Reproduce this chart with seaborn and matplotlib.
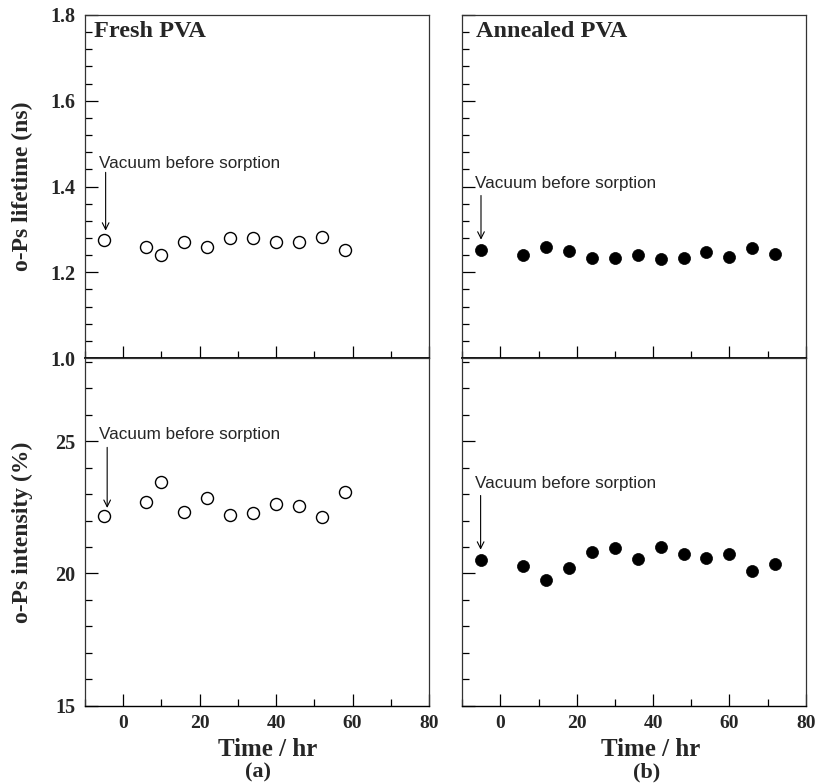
import matplotlib
matplotlib.use("Agg")
import matplotlib.pyplot as plt
from matplotlib.ticker import MultipleLocator
import seaborn as sns
import pandas as pd

# ---------------- data ----------------
fresh_time = [-5, 6, 10, 16, 22, 28, 34, 40, 46, 52, 58]
fresh_lifetime = [1.276, 1.258, 1.241, 1.270, 1.260, 1.279, 1.279, 1.270, 1.270, 1.283, 1.253]
fresh_intensity = [22.17, 22.72, 23.47, 22.31, 22.87, 22.20, 22.30, 22.63, 22.55, 22.14, 23.08]

annealed_time = [-5, 6, 12, 18, 24, 30, 36, 42, 48, 54, 60, 66, 72]
annealed_lifetime = [1.253, 1.240, 1.259, 1.250, 1.233, 1.233, 1.240, 1.231, 1.234, 1.247, 1.236, 1.256, 1.243]
annealed_intensity = [20.52, 20.29, 19.76, 20.20, 20.80, 20.95, 20.55, 21.02, 20.75, 20.58, 20.73, 20.11, 20.36]

panel_titles = ["Fresh PVA", "Annealed PVA"]
panel_tags = ["(a)", "(b)"]
x_ticks = [0, 20, 40, 60, 80]
lifetime_ticks = [1.0, 1.2, 1.4, 1.6, 1.8]
intensity_ticks = [15, 20, 25]
annotation_text = "Vacuum before sorption"

fresh = pd.DataFrame({"time": fresh_time, "lifetime": fresh_lifetime, "intensity": fresh_intensity})
annealed = pd.DataFrame({"time": annealed_time, "lifetime": annealed_lifetime, "intensity": annealed_intensity})

sns.set_style("ticks")
plt.rcParams["font.family"] = ["Liberation Serif", "DejaVu Serif"]

W, H = 818, 784
fig = plt.figure(figsize=(W / 100, H / 100), dpi=100)

def fx(px):
    return px / W

def fy(py):
    return 1 - py / H

cols = [(85, 429), (462.3, 805.7)]
rows = [(15, 358), (358, 705.7)]

serif_bold = dict(family=["Liberation Serif", "DejaVu Serif"], weight="bold")
sans = dict(family=["Liberation Sans", "DejaVu Sans"])

# annotation positions (text x, text y, arrow x, arrow top, arrow head) in data units
ann = {
    (0, 0): (-6.4, 1.453, -4.6, 1.433, 1.297),
    (1, 0): (-6.8, 1.408, -5.1, 1.379, 1.276),
    (0, 1): (-6.4, 25.25, -4.2, 24.77, 22.48),
    (1, 1): (-6.8, 23.40, -5.2, 22.95, 20.90),
}

title_x = [0.026, 0.040]
xlabel_x = [0.53, 0.547]
tag_x = [0.503, 0.537]

for c, (df, filled) in enumerate([(fresh, False), (annealed, True)]):
    for r, var in enumerate(["lifetime", "intensity"]):
        x0, x1 = cols[c]
        y0, y1 = rows[r]
        ax = fig.add_axes([fx(x0), fy(y1), fx(x1) - fx(x0), fy(y0) - fy(y1)])
        if filled:
            sns.scatterplot(data=df, x="time", y=var, ax=ax, marker="o", s=75,
                            color="black", edgecolor="black", linewidth=0.5, legend=False)
        else:
            sns.scatterplot(data=df, x="time", y=var, ax=ax, marker="o", s=75,
                            facecolor="white", edgecolor="black", linewidth=1.0, legend=False)
        ax.set_xlim(-10, 80)
        ax.xaxis.set_major_locator(MultipleLocator(20))
        ax.xaxis.set_minor_locator(MultipleLocator(10))
        if r == 0:
            ax.set_ylim(1.0, 1.8)
            ax.set_yticks(lifetime_ticks)
            ax.yaxis.set_minor_locator(MultipleLocator(0.04))
            ax.set_xticklabels([])
        else:
            ax.set_ylim(15, 28.15)
            ax.set_yticks(intensity_ticks)
            ax.yaxis.set_minor_locator(MultipleLocator(1))
            ax.set_xticks(x_ticks)
            ax.set_xticklabels([str(v) for v in x_ticks])
        ax.set_xlabel("")
        ax.set_ylabel("")
        ax.tick_params(which="both", direction="in", top=False, right=False,
                       left=True, bottom=True, width=0.9, color="black")
        ax.tick_params(which="major", length=9)
        ax.tick_params(which="minor", length=5)
        ax.tick_params(axis="y", pad=7)
        ax.tick_params(axis="x", pad=7)
        for lab in ax.get_yticklabels():
            lab.set_fontfamily(["Liberation Serif", "DejaVu Serif"])
            lab.set_fontweight("bold")
            lab.set_fontsize(14.5)
        for lab in ax.get_xticklabels():
            lab.set_fontfamily(["Liberation Serif", "DejaVu Serif"])
            lab.set_fontweight("bold")
            lab.set_fontsize(14)
        if c == 1:
            ax.set_yticklabels([])
        for side in ["left", "right", "top", "bottom"]:
            ax.spines[side].set_visible(True)
            ax.spines[side].set_color("#333333")
            ax.spines[side].set_linewidth(0.9)
        ax.spines["bottom"].set_color("black")
        ax.spines["bottom"].set_linewidth(1.3 if r == 0 else 1.0)

        # annotation
        tx, ty, axx, ay0, ay1 = ann[(c, r)]
        ax.text(tx, ty, annotation_text, fontsize=12.3, va="center", ha="left", **sans)
        ax.annotate("", xy=(axx, ay1), xytext=(axx, ay0),
                    arrowprops=dict(arrowstyle="->", color="black", lw=0.8,
                                    shrinkA=0, shrinkB=0, mutation_scale=12))

        if r == 0:
            ax.text(title_x[c], 0.952, panel_titles[c], transform=ax.transAxes,
                    fontsize=17.5, va="center", ha="left", **serif_bold)
            if c == 0:
                ax.set_ylabel("o-Ps lifetime (ns)", fontsize=17, **serif_bold)
                ax.yaxis.set_label_coords(-0.151, 0.5)
        else:
            if c == 0:
                ax.set_ylabel("o-Ps intensity (%)", fontsize=17, **serif_bold)
                ax.yaxis.set_label_coords(-0.151, 0.5)
            ax.text(xlabel_x[c], -0.127, "Time / hr", transform=ax.transAxes,
                    fontsize=18, va="center", ha="center", **serif_bold)
            ax.text(tag_x[c], -0.193, panel_tags[c], transform=ax.transAxes,
                    fontsize=16, va="center", ha="center", **serif_bold)

fig.savefig("out.png", dpi=100)
